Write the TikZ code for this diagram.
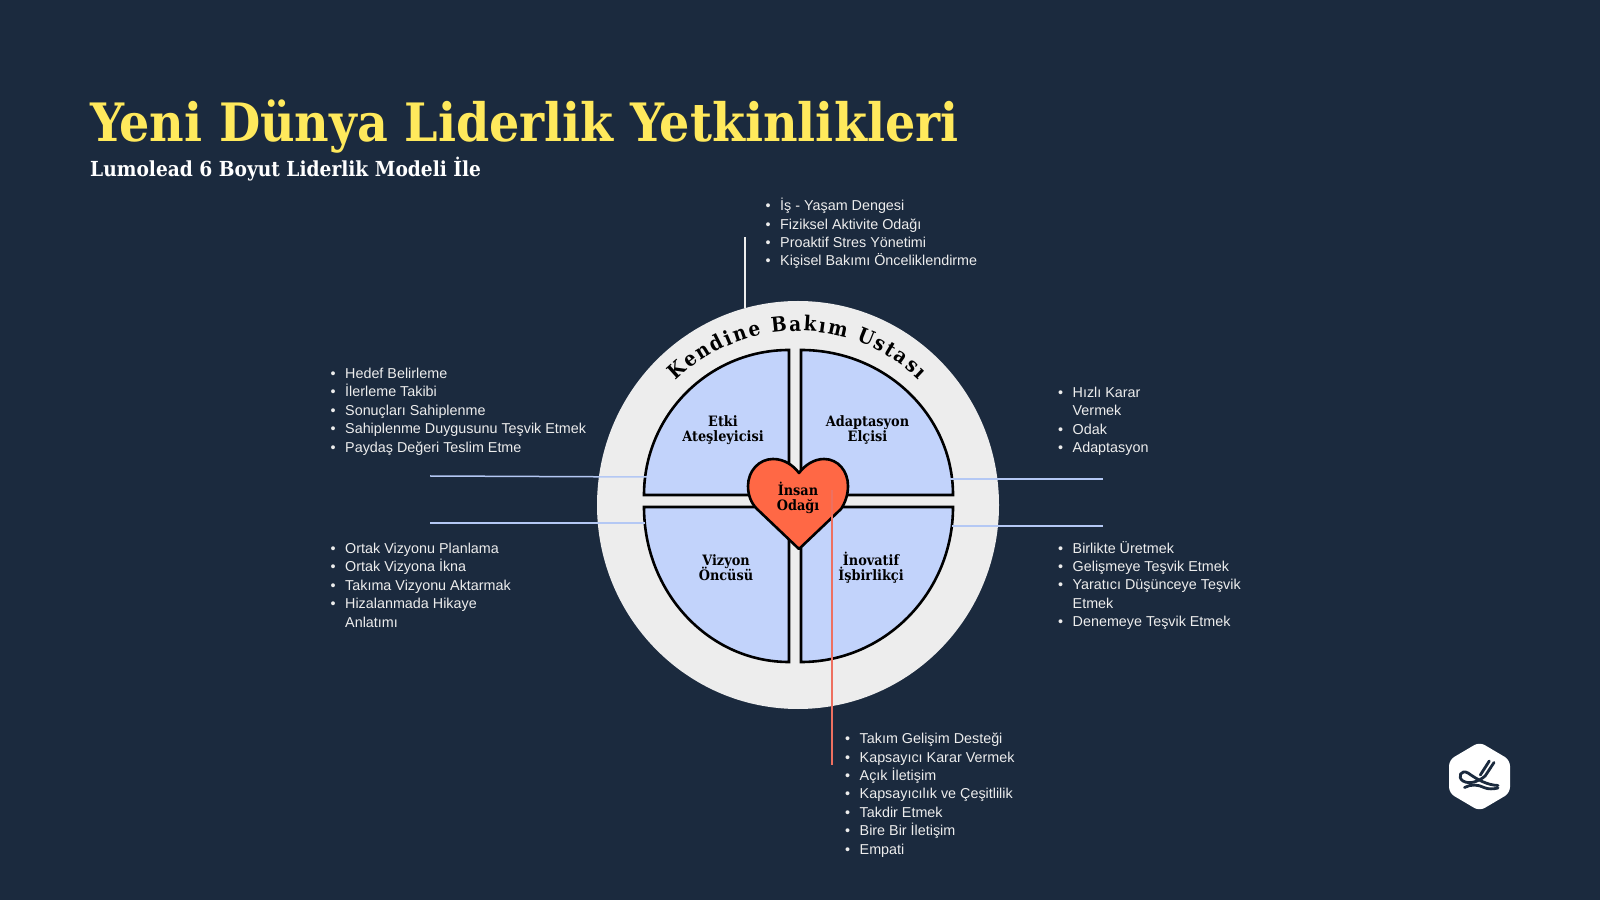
\documentclass[tikz,border=0pt]{standalone}
\usepackage{fontspec}
\setmainfont{Liberation Sans}
\newfontfamily\slabfont{DejaVu Serif Condensed}
\usetikzlibrary{decorations.text}
\definecolor{navy}{HTML}{1B2A3E}
\definecolor{ring}{HTML}{EDEDED}
\definecolor{petal}{HTML}{C2D3FB}
\definecolor{leadblue}{HTML}{B4C8F4}
\definecolor{coral}{HTML}{FF6845}
\definecolor{coralline}{HTML}{EE7060}
\definecolor{sun}{HTML}{FFE95C}
\newcommand{\bul}{\llap{\textbullet\hspace{9.5pt}}}
\newcommand{\tightlines}{\setlength{\lineskiplimit}{-20pt}}

\begin{document}
\begin{tikzpicture}[x=1pt, y=1pt]
	\tikzstyle{quarter} = [draw=black, fill=petal, line width=2.6pt, line join=miter]
	\tikzstyle{bullets} = [anchor=north west, inner sep=0pt, align=left, text=ring, font=\fontsize{14.35}{18.37}\selectfont\tightlines]
	\tikzstyle{caption} = [align=center, text=black, font=\slabfont\bfseries\fontsize{14.3}{14.7}\selectfont\tightlines]
	\tikzstyle{lead} = [draw=leadblue, line width=1.5pt]
	\tikzstyle{markstroke} = [draw=navy, line width=2.8pt, line cap=round]

	\fill[navy] (0,0) rectangle (1600,900);
	\useasboundingbox (0,0) rectangle (1600,900);

	% title
	\node[anchor=base west, inner sep=0pt, text=sun, font=\slabfont\bfseries\fontsize{52.9}{53}\selectfont] (title) at (90,758.5) {Yeni Dünya Liderlik Yetkinlikleri};
	\node[anchor=base west, inner sep=0pt, text=white, font=\slabfont\bfseries\fontsize{20.7}{21}\selectfont] (subtitle) at (90,723) {Lumolead 6 Boyut Liderlik Modeli İle};

	% wheel
	\fill[ring] (798,395) ellipse[x radius=201, y radius=204];
	\draw[quarter] (789,405) -- (789,550) arc[start angle=90, end angle=180, x radius=145, y radius=145] -- cycle;
	\draw[quarter] (801,405) -- (801,550) arc[start angle=90, end angle=0, x radius=152, y radius=145] -- cycle;
	\draw[quarter] (789,393) -- (789,238) arc[start angle=270, end angle=180, x radius=145, y radius=155] -- cycle;
	\draw[quarter] (801,393) -- (801,238) arc[start angle=270, end angle=360, x radius=152, y radius=155] -- cycle;

	\path[decorate, decoration={text along path, text align=fit to path,
		text={|\slabfont\bfseries\fontsize{20.5}{21}\selectfont|Kendine Bakım Ustası}}]
		(675.9,518.9) arc[start angle=134.6, end angle=46, radius=174];

	% leads
	\coordinate (topa) at (745,663);
	\coordinate (topb) at (745,592);
	\coordinate (lefta) at (430,424);
	\coordinate (leftb) at (647,423);
	\coordinate (leftc) at (430,377);
	\coordinate (leftd) at (645,377);
	\coordinate (righta) at (950,421);
	\coordinate (rightb) at (1103,421);
	\coordinate (rightc) at (952,374);
	\coordinate (rightd) at (1103,374);
	\coordinate (downa) at (832,410);
	\coordinate (downb) at (832,135);
	\draw[draw=ring, line width=1.2pt] (topa) -- (topb);
	\draw[lead] (lefta) -- (leftb);
	\draw[lead] (leftc) -- (leftd);
	\draw[lead] (righta) -- (rightb);
	\draw[lead] (rightc) -- (rightd);

	% heart
	\draw[draw=black, fill=coral, line width=2.6pt, line join=round] (799,351) -- (757,391)
		.. controls (751,397) and (748,405) .. (748,414)
		.. controls (748,429) and (759,441) .. (773,441)
		.. controls (784,441) and (793,435) .. (799,427)
		.. controls (805,435) and (814,441) .. (824,441)
		.. controls (838,441) and (848,429) .. (848,414)
		.. controls (848,405) and (845,397) .. (841,391) -- cycle;
	\draw[draw=coralline, line width=1.5pt] (downa) -- (downb);

	\node[caption] (etki) at (723,470) {Etki\\Ateşleyicisi};
	\node[caption] (adaptasyon) at (867.5,470) {Adaptasyon\\Elçisi};
	\node[caption] (vizyon) at (726,332) {Vizyon\\Öncüsü};
	\node[caption] (inovatif) at (871,332) {İnovatif\\İşbirlikçi};
	\node[caption] (insan) at (798,402) {İnsan\\Odağı};

	% lists
	\node[bullets] (selfcare) at (780,702) {\bul İş - Yaşam Dengesi\\\bul Fiziksel Aktivite Odağı\\\bul Proaktif Stres Yönetimi\\\bul Kişisel Bakımı Önceliklendirme};
	\node[bullets] (impact) at (345,532) {\bul Hedef Belirleme\\\bul İlerleme Takibi\\\bul Sonuçları Sahiplenme\\\bul Sahiplenme Duygusunu Teşvik Etmek\\\bul Paydaş Değeri Teslim Etme};
	\node[bullets] (agile) at (1072.5,513) {\bul Hızlı Karar\\Vermek\\\bul Odak\\\bul Adaptasyon};
	\node[bullets] (vision) at (345,357) {\bul Ortak Vizyonu Planlama\\\bul Ortak Vizyona İkna\\\bul Takıma Vizyonu Aktarmak\\\bul Hizalanmada Hikaye\\Anlatımı};
	\node[bullets] (innovate) at (1072.5,359) {\bul Birlikte Üretmek\\\bul Gelişmeye Teşvik Etmek\\\bul Yaratıcı Düşünceye Teşvik\\Etmek\\\bul Denemeye Teşvik Etmek};
	\node[bullets] (people) at (859.5,167) {\bul Takım Gelişim Desteği\\\bul Kapsayıcı Karar Vermek\\\bul Açık İletişim\\\bul Kapsayıcılık ve Çeşitlilik\\\bul Takdir Etmek\\\bul Bire Bir İletişim\\\bul Empati};

	% logo
	\fill[white, rounded corners=6pt] (1479.5,158) -- (1510,140) -- (1510,107) -- (1479.5,89) -- (1449,107) -- (1449,140) -- cycle;
	\draw[markstroke] (1489.3,139) -- (1480.3,125);
	\draw[markstroke] (1494,137.5) -- (1484.8,123.5);
	\draw[markstroke] (1498,114.5) .. controls (1487,115) and (1478,120) .. (1468,127)
		.. controls (1461,131) and (1457,123) .. (1463,119)
		.. controls (1470,115) and (1479,119) .. (1484.5,123.5);
	\draw[markstroke] (1464.5,112.5) .. controls (1471,116) and (1478,115.5) .. (1484,112.5) .. controls (1488,110.5) and (1494,111) .. (1498,112);
\end{tikzpicture}
\end{document}
